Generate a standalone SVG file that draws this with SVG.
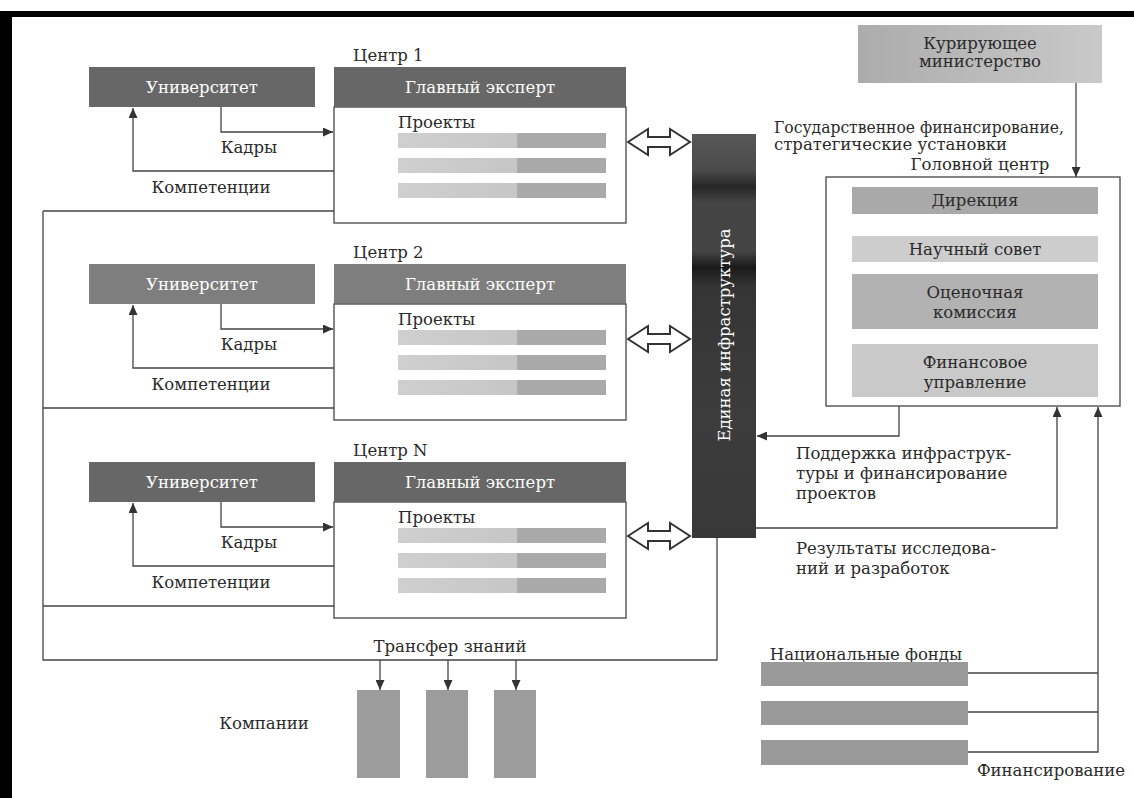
<svg xmlns="http://www.w3.org/2000/svg" width="1134" height="798" viewBox="0 0 1134 798">
<defs>
<style>
text{font-family:"DejaVu Serif","Liberation Serif",serif;font-size:16.5px;fill:#2a2a2a}
.w{fill:#ffffff}
.c{text-anchor:middle}
.hdr{fill:#676767}
.box{fill:#ffffff;stroke:#444;stroke-width:1.3}
.ln{fill:none;stroke:#444;stroke-width:1.3}
.arr{fill:none;stroke:#444;stroke-width:1.3;marker-end:url(#ah)}
.dbl{fill:#ffffff;stroke:#333;stroke-width:2;stroke-linejoin:miter}
.bar{fill:url(#pg)}
.co{fill:#9c9c9c}
.fund{fill:#9a9a9a}
</style>
<marker id="ah" markerWidth="10" markerHeight="9" refX="10" refY="4.5" orient="auto" markerUnits="userSpaceOnUse">
<path d="M0,0 L10,4.5 L0,9 Z" fill="#333"/>
</marker>
<linearGradient id="pg" x1="0" y1="0" x2="1" y2="0">
<stop offset="0" stop-color="#cfcfcf"/>
<stop offset="0.57" stop-color="#c6c6c6"/>
<stop offset="0.575" stop-color="#a9a9a9"/>
<stop offset="1" stop-color="#a9a9a9"/>
</linearGradient>
<linearGradient id="ig" x1="0" y1="0" x2="0" y2="1">
<stop offset="0" stop-color="#585858"/>
<stop offset="0.09" stop-color="#4a4a4a"/>
<stop offset="0.13" stop-color="#262626"/>
<stop offset="0.17" stop-color="#444444"/>
<stop offset="0.29" stop-color="#444444"/>
<stop offset="0.33" stop-color="#1a1a1a"/>
<stop offset="0.38" stop-color="#353535"/>
<stop offset="0.7" stop-color="#3c3c3c"/>
<stop offset="1" stop-color="#383838"/>
</linearGradient>
<linearGradient id="mg" x1="0" y1="0" x2="1" y2="0">
<stop offset="0" stop-color="#acacac"/>
<stop offset="1" stop-color="#c9c9c9"/>
</linearGradient>
</defs>
<rect width="1134" height="798" fill="#ffffff"/>
<g id="frame">
<rect x="0" y="11" width="1134" height="6" fill="#000"/>
<rect x="0" y="11" width="12" height="787" fill="#000"/>
</g>

<g id="connectors">
<g id="links-c1">
<path class="arr" d="M221,107 V132 H333"/>
<path class="arr" d="M334,171 H133 V108"/>
<path class="ln" d="M43,211 H334"/>
</g>
<g id="links-c2" transform="translate(0,197)">
<path class="arr" d="M221,107 V132 H333"/>
<path class="arr" d="M334,171 H133 V108"/>
<path class="ln" d="M43,211 H334"/>
</g>
<g id="links-cN" transform="translate(0,395)">
<path class="arr" d="M221,107 V132 H333"/>
<path class="arr" d="M334,171 H133 V108"/>
<path class="ln" d="M43,211 H334"/>
</g>
<path class="ln" d="M43,211 V660 H717 V538"/>
<path class="arr" d="M380,660 V690"/>
<path class="arr" d="M448,660 V690"/>
<path class="arr" d="M516,660 V690"/>
<path class="dbl" d="M628,142 L648,129 L648,137 L670,137 L670,129 L690,142 L670,155 L670,147 L648,147 L648,155 Z"/>
<path class="dbl" d="M628,339 L648,326 L648,334 L670,334 L670,326 L690,339 L670,352 L670,344 L648,344 L648,352 Z"/>
<path class="dbl" d="M628,536 L648,523 L648,531 L670,531 L670,523 L690,536 L670,549 L670,541 L648,541 L648,549 Z"/>
<path class="arr" d="M1076,83 V177"/>
<path class="arr" d="M899,406 V436 H757"/>
<path class="arr" d="M756,528 H1057 V407"/>
<path class="arr" d="M968,752 H1098 V407"/>
<path class="ln" d="M968,673 H1098"/>
<path class="ln" d="M968,712 H1098"/>
<text x="249" y="153" class="c">Кадры</text>
<text x="211" y="193" class="c">Компетенции</text>
<text x="249" y="350" class="c">Кадры</text>
<text x="211" y="390" class="c">Компетенции</text>
<text x="249" y="548" class="c">Кадры</text>
<text x="211" y="588" class="c">Компетенции</text>
<text x="450" y="652" class="c">Трансфер знаний</text>
<text x="774" y="133" font-size="15.5" textLength="290" lengthAdjust="spacingAndGlyphs">Государственное финансирование,</text>
<text x="774" y="150" font-size="15.5">стратегические установки</text>
<text x="796" y="459" font-size="16">Поддержка инфраструк-</text>
<text x="796" y="479" font-size="16">туры и финансирование</text>
<text x="796" y="499" font-size="16">проектов</text>
<text x="796" y="554" font-size="16">Результаты исследова-</text>
<text x="796" y="574" font-size="16">ний и разработок</text>
<text x="1051" y="776" class="c" font-size="16">Финансирование</text>
</g>

<g id="center1">
<text x="353" y="61">Центр 1</text>
<g id="university1"><rect class="hdr" x="89" y="67" width="226" height="40"/><text x="202" y="93" class="w c">Университет</text></g>
<g id="expert1"><rect class="box" x="334" y="107" width="292" height="116"/><rect class="hdr" x="334" y="67" width="292" height="40"/><text x="480" y="93" class="w c">Главный эксперт</text>
<text x="398" y="128">Проекты</text>
<rect class="bar" x="398" y="133" width="208" height="15"/><rect class="bar" x="398" y="158" width="208" height="15"/><rect class="bar" x="398" y="183" width="208" height="15"/></g>
</g>
<g id="center2" transform="translate(0,197)">
<text x="353" y="61">Центр 2</text>
<g id="university2"><rect class="hdr" x="89" y="67" width="226" height="40" fill-opacity="0.85"/><text x="202" y="93" class="w c">Университет</text></g>
<g id="expert2"><rect class="box" x="334" y="107" width="292" height="116"/><rect class="hdr" x="334" y="67" width="292" height="40" fill-opacity="0.85"/><text x="480" y="93" class="w c">Главный эксперт</text>
<text x="398" y="128">Проекты</text>
<rect class="bar" x="398" y="133" width="208" height="15"/><rect class="bar" x="398" y="158" width="208" height="15"/><rect class="bar" x="398" y="183" width="208" height="15"/></g>
</g>
<g id="centerN" transform="translate(0,395)">
<text x="353" y="61">Центр N</text>
<g id="universityN"><rect class="hdr" x="89" y="67" width="226" height="40"/><text x="202" y="93" class="w c">Университет</text></g>
<g id="expertN"><rect class="box" x="334" y="107" width="292" height="116"/><rect class="hdr" x="334" y="67" width="292" height="40" fill="#5e5e5e"/><text x="480" y="93" class="w c">Главный эксперт</text>
<text x="398" y="128">Проекты</text>
<rect class="bar" x="398" y="133" width="208" height="15"/><rect class="bar" x="398" y="158" width="208" height="15"/><rect class="bar" x="398" y="183" width="208" height="15"/></g>
</g>

<g id="infrastructure">
<rect x="692" y="134" width="64" height="404" fill="url(#ig)"/>
<text transform="translate(730,335) rotate(-90)" class="w c">Единая инфраструктура</text>
</g>

<g id="ministry">
<rect x="858" y="25" width="244" height="58" fill="url(#mg)"/>
<text x="980" y="49" class="c">Курирующее</text>
<text x="980" y="67" class="c">министерство</text>
</g>

<g id="head-center">
<text x="980" y="170" class="c">Головной центр</text>
<rect class="box" x="826" y="177" width="294" height="229"/>
<rect x="852" y="187" width="246" height="27" fill="#a9a9a9"/>
<text x="975" y="206" class="c">Дирекция</text>
<rect x="852" y="236" width="246" height="26" fill="#cdcdcd"/>
<text x="975" y="255" class="c">Научный совет</text>
<rect x="852" y="274" width="246" height="55" fill="#b2b2b2"/>
<text x="975" y="298" class="c">Оценочная</text>
<text x="975" y="318" class="c">комиссия</text>
<rect x="852" y="344" width="246" height="53" fill="#c9c9c9"/>
<text x="975" y="368" class="c" font-size="15.5">Финансовое</text>
<text x="975" y="388" class="c" font-size="15.5">управление</text>
</g>

<g id="companies">
<text x="264" y="729" class="c">Компании</text>
<rect class="co" x="357" y="690" width="43" height="88"/>
<rect class="co" x="426" y="690" width="42" height="88"/>
<rect class="co" x="494" y="690" width="42" height="88"/>
</g>

<g id="national-funds">
<text x="866" y="660" class="c">Национальные фонды</text>
<rect class="fund" x="761" y="662" width="207" height="24"/>
<rect class="fund" x="761" y="701" width="207" height="24"/>
<rect class="fund" x="761" y="740" width="207" height="25"/>
</g>
</svg>
